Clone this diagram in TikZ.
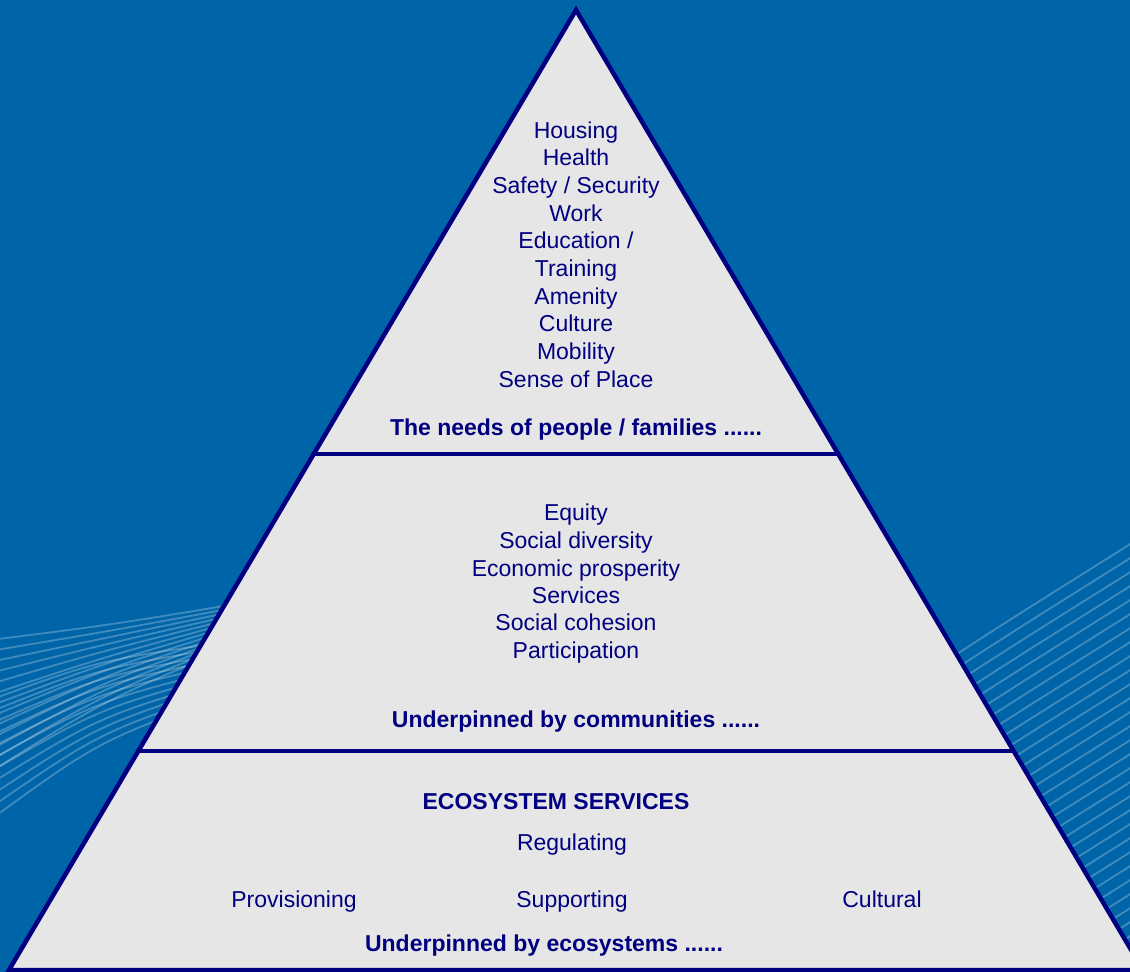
\documentclass[tikz,border=0pt]{standalone}
\usepackage{fontspec}
\setmainfont{Liberation Sans}
\definecolor{bgblue}{RGB}{0,101,168}
\definecolor{navy}{RGB}{0,0,128}
\definecolor{pyrfill}{RGB}{230,230,230}
\begin{document}
\begin{tikzpicture}[x=1pt,y=-1pt,
  txt/.style={text=navy,font=\fontsize{23}{27}\selectfont,inner sep=0pt,anchor=base},
  bold/.style={txt,font=\fontsize{23}{27}\selectfont\bfseries},
  wave/.style={draw=white,opacity=0.25,line width=1.8pt},
  edge/.style={draw=navy,line width=4.5pt,line join=miter}]
\useasboundingbox (0,0) rectangle (1130,972);
\fill[bgblue] (0,0) rectangle (1130,972);
\begin{scope}
\clip (0,0) rectangle (1130,972);
% right waves
\foreach \i in {0,...,32} {
  \draw[wave] (880,{705+14*\i}) .. controls (990,{632+14*\i}) .. (1140,{538+14*\i});
}
% left waves
\foreach \i in {0,...,12} {
  \draw[wave] (-10,{640+11*\i}) .. controls (110,{625+6*\i}) .. (260,{600+3*\i});
}
\foreach \i in {0,...,10} {
  \draw[wave] (-10,{700+12*\i}) .. controls (100,{660+8*\i}) .. (240,{640+5*\i});
}
% pyramid
\coordinate (apex) at (576,10);
\coordinate (bl) at (9,970);
\coordinate (br) at (1143,970);
\coordinate (l1) at (313.5,454);
\coordinate (r1) at (838.5,454);
\coordinate (l2) at (139.5,751);
\coordinate (r2) at (1012.5,751);
\filldraw[fill=pyrfill,edge] (apex) -- (br) -- (bl) -- cycle;
\draw[navy,line width=4pt] (l1) -- (r1);
\draw[navy,line width=4pt] (l2) -- (r2);
\end{scope}
% top section
\node[txt] (t1) at (576,138) {Housing};
\node[txt] (t2) at (576,165) {Health};
\node[txt] (t3) at (576,193) {Safety / Security};
\node[txt] (t4) at (576,221) {Work};
\node[txt] (t5) at (576,248) {Education /};
\node[txt] (t6) at (576,276) {Training};
\node[txt] (t7) at (576,304) {Amenity};
\node[txt] (t8) at (576,331) {Culture};
\node[txt] (t9) at (576,359) {Mobility};
\node[txt] (t10) at (576,387) {Sense of Place};
\node[bold] (tb) at (576,435) {The needs of people / families ......};
% middle section
\node[txt] (m1) at (576,520) {Equity};
\node[txt] (m2) at (576,548) {Social diversity};
\node[txt] (m3) at (576,576) {Economic prosperity};
\node[txt] (m4) at (576,603) {Services};
\node[txt] (m5) at (576,630) {Social cohesion};
\node[txt] (m6) at (576,658) {Participation};
\node[bold] (mb) at (576,727) {Underpinned by communities ......};
% bottom section
\node[bold] (b0) at (556,809) {ECOSYSTEM SERVICES};
\node[txt] (b1) at (572,850) {Regulating};
\node[txt] (b2) at (294,907) {Provisioning};
\node[txt] (b3) at (572,907) {Supporting};
\node[txt] (b4) at (882,907) {Cultural};
\node[bold] (bb) at (544,951) {Underpinned by ecosystems ......};
\end{tikzpicture}
\end{document}
